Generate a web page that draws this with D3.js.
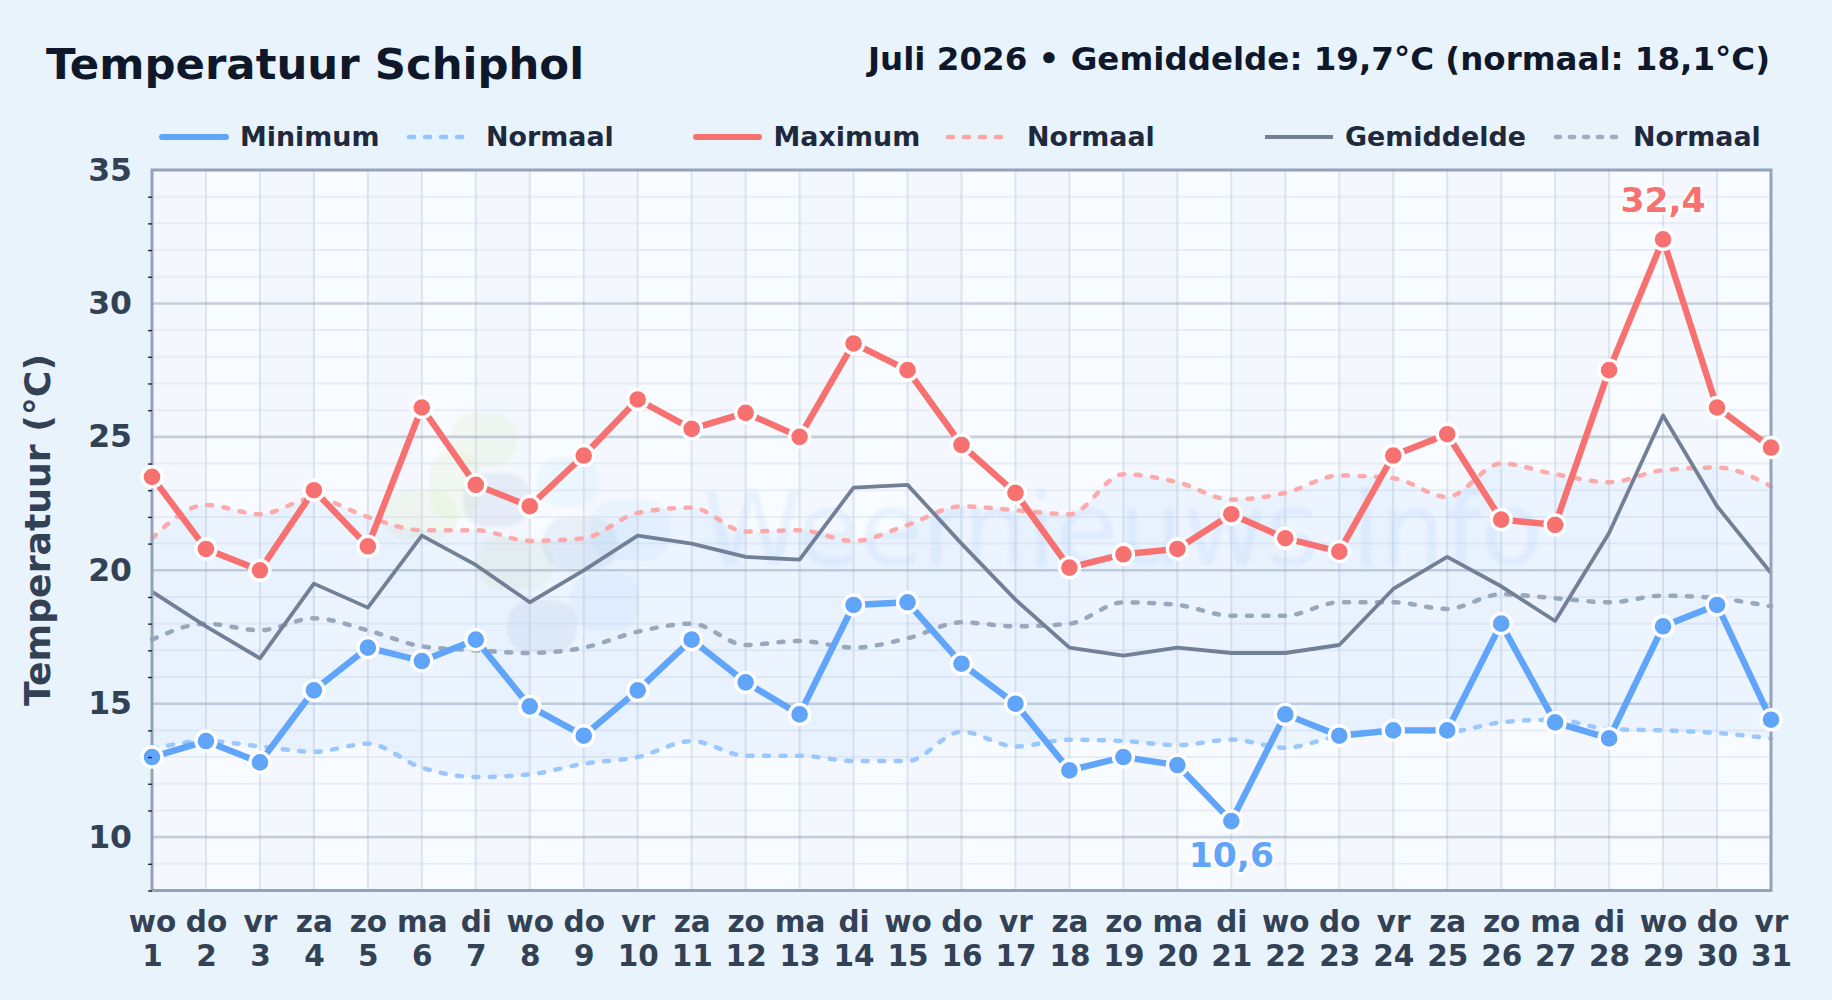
<!DOCTYPE html>
<html>
<head>
<meta charset="utf-8">
<title>Temperatuur Schiphol</title>
<script src="https://cdn.jsdelivr.net/npm/d3@7"></script>
<style>
    html, body { margin: 0; padding: 0; background: #e8f3fc; }
    svg { display: block; }
    text { font-family: "DejaVu Sans", sans-serif; font-weight: 700; }
</style>
</head>
<body>
<div id="chart"></div>
<script>

// day labels
const dayNames = ['wo','do','vr','za','zo','ma','di','wo','do','vr','za','zo','ma','di','wo','do','vr','za','zo','ma','di','wo','do','vr','za','zo','ma','di','wo','do','vr'];
const days = d3.range(1, 32);

// measured temperatures
const tempMax = [23.5,20.8,20.0,23.0,20.9,26.1,23.2,22.4,24.3,26.4,25.3,25.9,25.0,28.5,27.5,24.7,22.9,20.1,20.6,20.8,22.1,21.2,20.7,24.3,25.1,21.9,21.7,27.5,32.4,26.1,24.6];
const tempMin = [13.0,13.6,12.8,15.5,17.1,16.6,17.4,14.9,13.8,15.5,17.4,15.8,14.6,18.7,18.8,16.5,15.0,12.5,13.0,12.7,10.6,14.6,13.8,14.0,14.0,18.0,14.3,13.7,17.9,18.7,14.4];
const tempAvg = [19.2,17.9,16.7,19.5,18.6,21.3,20.2,18.8,20.0,21.3,21.0,20.5,20.4,23.1,23.2,21.0,18.9,17.1,16.8,17.1,16.9,16.9,17.2,19.3,20.5,19.4,18.1,21.4,25.8,22.4,19.9];

// climate normals
const normMax = [21.2,22.45,22.1,22.7,22.0,21.5,21.5,21.1,21.2,22.15,22.35,21.45,21.5,21.1,21.7,22.4,22.25,22.1,23.6,23.3,22.65,22.9,23.55,23.45,22.75,24.0,23.6,23.3,23.75,23.85,23.15];
const normAvg = [17.4,18.0,17.75,18.2,17.75,17.15,17.0,16.9,17.1,17.7,18.0,17.2,17.35,17.1,17.45,18.05,17.9,18.0,18.8,18.7,18.3,18.3,18.8,18.8,18.55,19.1,18.95,18.8,19.05,18.95,18.65];
const normMin = [13.3,13.6,13.4,13.2,13.5,12.6,12.25,12.35,12.75,13.0,13.6,13.05,13.05,12.85,12.85,13.95,13.4,13.65,13.6,13.45,13.65,13.35,13.8,14.0,13.95,14.3,14.4,14.05,14.0,13.9,13.7];

const majorTicks = [10, 15, 20, 25, 30, 35];
const minorTicks = d3.range(8, 36).filter(d => d % 5 !== 0);

const margin = {top: 170, right: 61, bottom: 109.5, left: 152};
const width = 1832 - margin.left - margin.right;
const height = 1000 - margin.top - margin.bottom;

const svg = d3.select('#chart').append('svg')
    .attr('width', 1832)
    .attr('height', 1000);

const defs = svg.append('defs');
defs.append('filter').attr('id', 'soft')
    .append('feGaussianBlur').attr('stdDeviation', 1.5);

// scales
const x = d3.scaleLinear().domain([1, 31]).range([0, width]);
const y = d3.scaleLinear().domain([8, 35]).range([height, 0]);

svg.append('text')
    .attr('x', 46)
    .attr('y', 79)
    .text('Temperatuur Schiphol')
    .style('font-size', '43.4px')
    .style('fill', '#0f172a');

svg.append('text')
    .attr('x', 1770)
    .attr('y', 70)
    .attr('text-anchor', 'end')
    .text('Juli 2026 • Gemiddelde: 19,7°C (normaal: 18,1°C)')
    .style('font-size', '32.5px')
    .style('fill', '#0f172a');

// legend
const legendItems = [
    {label: 'Minimum', x0: 162, x1: 226, tx: 240, color: '#60a5fa', w: 6, dash: null},
    {label: 'Normaal', x0: 409, x1: 465, tx: 486, color: '#93c5fd', w: 4.6, dash: '5 11'},
    {label: 'Maximum', x0: 696, x1: 759, tx: 773.5, color: '#f87171', w: 6, dash: null},
    {label: 'Normaal', x0: 948, x1: 1005, tx: 1027, color: '#fca5a5', w: 4.6, dash: '5 11'},
    {label: 'Gemiddelde', x0: 1265, x1: 1333, tx: 1345, color: '#718096', w: 4, dash: null},
    {label: 'Normaal', x0: 1556, x1: 1620, tx: 1633, color: '#a0aec0', w: 4.6, dash: '4 10'}
];

const legend = svg.selectAll('.legend').data(legendItems).enter().append('g').attr('class', 'legend');
legend.append('line')
    .attr('x1', d => d.x0).attr('x2', d => d.x1)
    .attr('y1', 137).attr('y2', 137)
    .attr('stroke', d => d.color)
    .attr('stroke-width', d => d.w)
    .attr('stroke-dasharray', d => d.dash)
    .attr('stroke-linecap', d => d.w === 6 || d.dash ? 'round' : 'butt');
legend.append('text')
    .attr('x', d => d.tx)
    .attr('y', 146)
    .text(d => d.label)
    .style('font-size', '26.9px')
    .style('fill', '#1e293b');

// y title
svg.append('text')
    .attr('transform', 'translate(50, 530) rotate(-90)')
    .attr('text-anchor', 'middle')
    .text('Temperatuur (°C)')
    .style('font-size', '36.2px')
    .style('fill', '#334155');

const g = svg.append('g').attr('transform', `translate(${margin.left}, ${margin.top})`);

// plot background with faint alternating columns
g.append('rect').attr('width', width).attr('height', height).attr('fill', '#f8fbff');
g.selectAll('.band').data(days.slice(0, 30).filter(d => d % 2 === 1)).enter().append('rect')
    .attr('class', 'band')
    .attr('x', d => x(d)).attr('width', x(2) - x(1))
    .attr('height', height)
    .attr('fill', '#f4f8fe');

// watermark logo blobs and name
const blobs = [
    [450, 413, 67, 54, '#d5e8b8'], [383, 490, 74, 50, '#d5e8b8'], [430, 450, 50, 70, '#d5e8b8'], [477, 537, 76, 53, '#d5e8b8'],
    [537, 457, 63, 50, '#bce2fb'], [590, 500, 80, 60, '#bce2fb'], [570, 573, 70, 57, '#bce2fb'],
    [463, 473, 67, 54, '#a9bfdc'], [543, 517, 74, 53, '#a9bfdc'], [507, 600, 70, 53, '#a9bfdc']
];
const logo = g.append('g')
    .attr('transform', `translate(${-margin.left}, ${-margin.top})`)
    .attr('filter', 'url(#soft)');
logo.selectAll('rect').data(blobs).enter().append('rect')
    .attr('x', d => d[0]).attr('y', d => d[1])
    .attr('width', d => d[2]).attr('height', d => d[3])
    .attr('rx', 24)
    .attr('fill', d => d[4])
    .attr('fill-opacity', 0.2);
g.append('text')
    .attr('x', 702 - margin.left)
    .attr('y', 565 - margin.top)
    .attr('filter', 'url(#soft)')
    .text('Weernieuws.info')
    .style('font-size', '102px')
    .style('font-weight', 400)
    .style('fill', '#60a5fa')
    .style('fill-opacity', 0.1);

// grid
g.selectAll('.grid-v').data(days.slice(1, 30)).enter().append('line')
    .attr('class', 'grid-v')
    .attr('x1', d => x(d)).attr('x2', d => x(d))
    .attr('y1', 0).attr('y2', height)
    .attr('stroke', '#cbd5e1').attr('stroke-opacity', 0.6).attr('stroke-width', 2);
g.selectAll('.grid-minor').data(minorTicks.slice(1)).enter().append('line')
    .attr('class', 'grid-minor')
    .attr('x1', 0).attr('x2', width)
    .attr('y1', d => y(d)).attr('y2', d => y(d))
    .attr('stroke', '#cbd5e1').attr('stroke-opacity', 0.35).attr('stroke-width', 2);
g.selectAll('.grid-major').data(majorTicks.slice(0, 5)).enter().append('line')
    .attr('class', 'grid-major')
    .attr('x1', 0).attr('x2', width)
    .attr('y1', d => y(d)).attr('y2', d => y(d))
    .attr('stroke', '#94a3b8').attr('stroke-opacity', 0.5).attr('stroke-width', 2.6);

// band between the normal minimum and maximum
g.append('path')
    .datum(days)
    .attr('d', d3.area()
        .x(d => x(d))
        .y0(d => y(normMin[d - 1]))
        .y1(d => y(normMax[d - 1]))
        .curve(d3.curveMonotoneX))
    .attr('fill', '#60a5fa')
    .attr('fill-opacity', 0.075);

// lines
function drawLine(values, color, lineWidth, dash, curve, opacity, cap) {
    g.append('path')
        .datum(values)
        .attr('d', d3.line()
            .x((d, i) => x(days[i]))
            .y(d => y(d))
            .curve(curve))
        .attr('fill', 'none')
        .attr('stroke', color)
        .attr('stroke-width', lineWidth)
        .attr('stroke-dasharray', dash)
        .attr('stroke-opacity', opacity)
        .attr('stroke-linecap', cap)
        .attr('stroke-linejoin', 'round');
}

drawLine(normMin, '#93c5fd', 4.5, '5 11.5', d3.curveMonotoneX, 0.95, 'round');
drawLine(normMax, '#fca5a5', 4.5, '5 11.5', d3.curveMonotoneX, 0.95, 'round');
drawLine(normAvg, '#94a3b8', 4.5, '5 11.5', d3.curveMonotoneX, 0.95, 'round');
drawLine(tempAvg, '#718096', 3.8, null, d3.curveLinear, 1, 'butt');
drawLine(tempMin, '#60a5fa', 6.4, null, d3.curveLinear, 1, 'butt');
drawLine(tempMax, '#f87171', 6.4, null, d3.curveLinear, 1, 'butt');

// frame
g.append('rect')
    .attr('width', width).attr('height', height)
    .attr('fill', 'none')
    .attr('stroke', '#94a3b8').attr('stroke-width', 3);

// markers
function drawDots(values, color) {
    g.append('g').selectAll('circle').data(values).enter().append('circle')
        .attr('cx', (d, i) => x(days[i]))
        .attr('cy', d => y(d))
        .attr('r', 10)
        .attr('fill', color)
        .attr('stroke', '#ffffff')
        .attr('stroke-width', 3.4);
}
drawDots(tempMin, '#60a5fa');
drawDots(tempMax, '#f87171');

// labels on the extremes
function extreme(values, pick, color, offset) {
    let v = pick(values);
    let i = values.indexOf(v);
    g.append('text')
        .attr('x', x(days[i]))
        .attr('y', y(v) + offset)
        .attr('text-anchor', 'middle')
        .text(String(v).replace('.', ','))
        .style('font-size', '34.5px')
        .style('fill', color)
        .style('stroke', '#ffffff')
        .style('stroke-opacity', 0.8)
        .style('stroke-width', 5)
        .style('paint-order', 'stroke');
}
extreme(tempMax, d3.max, '#f87171', -27);
extreme(tempMin, d3.min, '#60a5fa', 46);

// axes
const yAxis = g.append('g')
    .call(d3.axisLeft(y).tickValues(majorTicks).tickSize(0).tickPadding(20).tickFormat(d3.format('d')));
yAxis.select('.domain').remove();
yAxis.selectAll('text')
    .style('font-size', '31.5px')
    .style('fill', '#334155');

const yMinor = g.append('g')
    .call(d3.axisLeft(y).tickValues(minorTicks).tickSize(4).tickFormat(''));
yMinor.select('.domain').remove();
yMinor.selectAll('line').attr('stroke', '#1e293b').attr('stroke-width', 1.4);

const xAxis = g.append('g')
    .attr('transform', `translate(0, ${height})`)
    .call(d3.axisBottom(x).tickValues(days).tickSize(0).tickFormat(d3.format('d')));
xAxis.select('.domain').remove();
xAxis.selectAll('text').each(function(d) {
    let t = d3.select(this).text(null).attr('y', null).attr('dy', null);
    t.append('tspan').attr('x', 0).attr('y', 41).text(dayNames[d - 1]);
    t.append('tspan').attr('x', 0).attr('y', 75).text(d);
});
xAxis.selectAll('text')
    .style('font-size', '29.5px')
    .style('fill', '#334155');

</script>
</body>
</html>
